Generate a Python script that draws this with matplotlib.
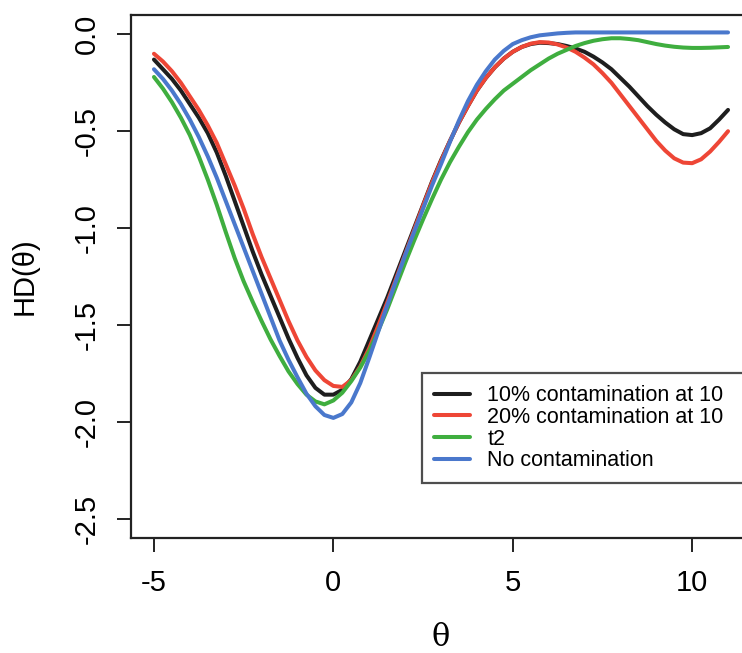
"""HD(theta) curves for contaminated / uncontaminated samples"""

import matplotlib
matplotlib.use('Agg')
import matplotlib.pyplot as plt
import numpy as np

theta = np.arange(-5, 11.001, 0.25)

# 10% contamination at 10
hd_10 = [-0.13, -0.18, -0.23, -0.29, -0.36, -0.43, -0.51, -0.61, -0.73, -0.86,
         -0.99, -1.12, -1.24, -1.35, -1.46, -1.57, -1.67, -1.76, -1.825, -1.86,
         -1.86, -1.835, -1.78, -1.69, -1.58, -1.47, -1.36, -1.24, -1.12, -1.00,
         -0.88, -0.76, -0.65, -0.55, -0.455, -0.37, -0.29, -0.225, -0.17, -0.125,
         -0.09, -0.065, -0.05, -0.043, -0.045, -0.05, -0.06, -0.073, -0.09, -0.115,
         -0.145, -0.18, -0.225, -0.27, -0.32, -0.37, -0.415, -0.455, -0.49, -0.515,
         -0.52, -0.51, -0.485, -0.44, -0.39]
# 20% contamination at 10
hd_20 = [-0.10, -0.14, -0.19, -0.25, -0.32, -0.39, -0.47, -0.56, -0.67, -0.78,
         -0.90, -1.03, -1.15, -1.26, -1.37, -1.48, -1.58, -1.665, -1.735, -1.785,
         -1.815, -1.82, -1.785, -1.715, -1.62, -1.505, -1.385, -1.26, -1.135, -1.01,
         -0.885, -0.765, -0.655, -0.55, -0.455, -0.37, -0.29, -0.225, -0.17, -0.125,
         -0.09, -0.065, -0.048, -0.04, -0.042, -0.052, -0.068, -0.09, -0.12, -0.155,
         -0.20, -0.25, -0.31, -0.37, -0.43, -0.49, -0.55, -0.60, -0.64, -0.662,
         -0.665, -0.645, -0.605, -0.555, -0.50]
# t2
hd_t2 = [-0.22, -0.28, -0.35, -0.43, -0.52, -0.63, -0.75, -0.88, -1.02, -1.155,
         -1.275, -1.38, -1.48, -1.575, -1.66, -1.74, -1.805, -1.86, -1.895, -1.91,
         -1.89, -1.85, -1.79, -1.72, -1.635, -1.53, -1.42, -1.30, -1.18, -1.065,
         -0.955, -0.85, -0.75, -0.66, -0.58, -0.505, -0.44, -0.385, -0.335, -0.29,
         -0.255, -0.22, -0.185, -0.155, -0.125, -0.10, -0.08, -0.06, -0.045, -0.033,
         -0.025, -0.02, -0.02, -0.024, -0.03, -0.04, -0.05, -0.058, -0.064, -0.068,
         -0.07, -0.07, -0.069, -0.067, -0.065]
# no contamination
hd_0 = [-0.18, -0.23, -0.29, -0.36, -0.44, -0.53, -0.63, -0.74, -0.86, -0.98,
        -1.10, -1.22, -1.34, -1.46, -1.58, -1.68, -1.77, -1.855, -1.92, -1.965,
        -1.98, -1.96, -1.90, -1.80, -1.67, -1.535, -1.40, -1.27, -1.14, -1.02,
        -0.90, -0.78, -0.67, -0.555, -0.445, -0.345, -0.26, -0.19, -0.13, -0.085,
        -0.05, -0.03, -0.015, -0.005, 0.0, 0.005, 0.008, 0.01, 0.01, 0.01,
        0.01, 0.01, 0.01, 0.01, 0.01, 0.01, 0.01, 0.01, 0.01, 0.01,
        0.01, 0.01, 0.01, 0.01, 0.01]

labels = ['10% contamination at 10', '20% contamination at 10', 't2', 'No contamination']
colors = ['#1e1e1e', '#ee4636', '#3fae3f', '#4a78cc']

plt.rcParams['font.family'] = ['Liberation Sans', 'DejaVu Sans']
plt.rcParams['axes.unicode_minus'] = False

fig = plt.figure(figsize=(7.42, 6.53), dpi=100)
ax = fig.add_axes([131 / 742, 115 / 653, 620 / 742, 523 / 653])

for ys, c, lab in zip([hd_10, hd_20, hd_t2, hd_0], colors, labels):
    ax.plot(theta, ys, color=c, lw=2.9, label=lab, solid_capstyle='round')

ax.set_xlim(-5.64, 11.64)
ax.set_ylim(-2.6, 0.1)
ax.set_xticks([-5, 0, 5, 10])
ax.set_yticks([0.0, -0.5, -1.0, -1.5, -2.0, -2.5])
ax.set_yticklabels(['0.0', '-0.5', '-1.0', '-1.5', '-2.0', '-2.5'],
                   rotation=90, va='center')
ax.tick_params(axis='both', length=10, width=1.4, labelsize=21, color='#222222')
ax.tick_params(axis='y', pad=12)
ax.tick_params(axis='x', pad=12)
for s in ax.spines.values():
    s.set_linewidth(1.6)
    s.set_color('#222222')

ax.set_xlabel('θ', fontsize=22, family=['DejaVu Serif'], labelpad=18)
ax.set_ylabel('HD(θ)', fontsize=21, labelpad=24)

leg = ax.legend(loc='lower left', bbox_to_anchor=(0.469, 0.105, 0.52, 0.212),
                mode='expand', fontsize=15.5, frameon=True, fancybox=False,
                edgecolor='#222222', handlelength=1.7, handletextpad=0.8,
                labelspacing=0.03, borderpad=0.55, borderaxespad=0)
leg.get_frame().set_linewidth(1.6)

fig.savefig('out.png', dpi=100)
